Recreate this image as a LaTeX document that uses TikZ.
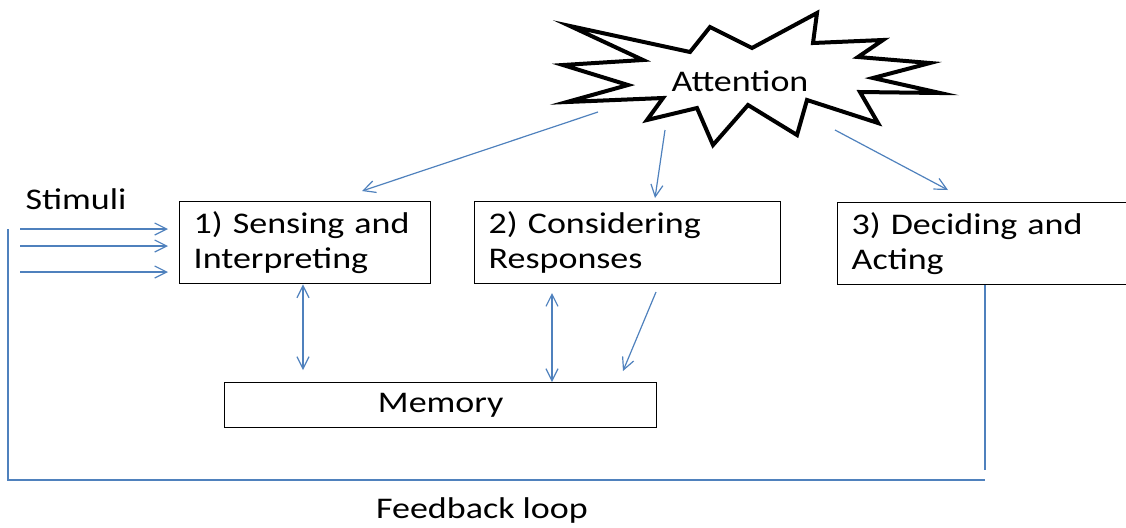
\documentclass[tikz,border=0pt]{standalone}
\usepackage{fontspec}
\setmainfont{Carlito}[FakeStretch=1.2]
\usetikzlibrary{arrows.meta,positioning}
\definecolor{linkblue}{RGB}{79,129,189}

\begin{document}
\begin{tikzpicture}[x=0.5pt, y=-0.5pt, font=\fontsize{15}{17.5}\selectfont,
  box/.style={draw, line width=0.7pt, anchor=north west, align=left, inner xsep=7pt, inner ysep=0pt, minimum height=41pt},
  link/.style={draw=linkblue, line width=0.6pt, -{Straight Barb[length=6pt, width=6pt]}},
  both/.style={link, {Straight Barb[length=6pt, width=6pt]}-{Straight Barb[length=6pt, width=6pt]}},
  loopline/.style={draw=linkblue, line width=0.75pt}]
  \useasboundingbox (0,0) rectangle (1126,527);
  \clip (0,0) rectangle (1126,527);

  \node[box, text width=111.5pt] (sense) at (179,201) {1) Sensing and\\Interpreting};
  \node[box, text width=139pt] (consider) at (474,201) {2) Considering\\Responses};
  \node[box, text width=137.5pt] (decide) at (837,202) {3) Deciding and\\Acting};
  \node[draw, line width=0.7pt, anchor=north west, inner sep=0pt, minimum width=216pt, minimum height=22.5pt] (mem) at (224,382) {Memory};

  \draw[line width=2pt, fill=white] (570,26) -- (690,52) -- (710,27) -- (752,48) -- (817,13) -- (813,43)
    -- (883,40) -- (858,57) -- (930,63) -- (873,78) -- (940,93) -- (860,92) -- (878,123) -- (807,100)
    -- (797,135) -- (748,105) -- (713,145) -- (697,108) -- (647,120) -- (663,98) -- (567,102) -- (628,85)
    -- (563,65) -- (643,60) -- cycle;
  \node (att) at (740,81) {Attention};

  \node (stim) at (76,199) {Stimuli};
  \node (fb) at (482,510) {Feedback loop};

  \coordinate (a1) at (598,112);
  \coordinate (a2) at (665,130);
  \coordinate (a3) at (835,130);
  \coordinate (t1) at (362,191);
  \coordinate (t2) at (655,198);
  \coordinate (t3) at (948,190);
  \draw[link] (a1) to (t1);
  \draw[link] (a2) to (t2);
  \draw[link] (a3) to (t3);

  \foreach \y [count=\i] in {229,246,272} {
    \coordinate (in\i) at (20,\y);
    \draw[link, shorten >=5.5pt] (in\i) to (in\i -| sense.west);
  }

  \coordinate (m1) at (303,370);
  \coordinate (r1) at (552,293);
  \coordinate (r2) at (656,292);
  \coordinate (r3) at (623,371);
  \draw[both] (m1 |- sense.south) to (m1);
  \draw[both] (r1) to (r1 |- mem.north);
  \draw[link] (r2) to (r3);

  \coordinate (fbtop) at (8,229);
  \coordinate (fbend) at (985,480);
  \draw[loopline] (fbtop) |- (fbend);
  \draw[loopline, shorten >=5pt] (fbend |- decide.south) to (fbend);
\end{tikzpicture}
\end{document}
